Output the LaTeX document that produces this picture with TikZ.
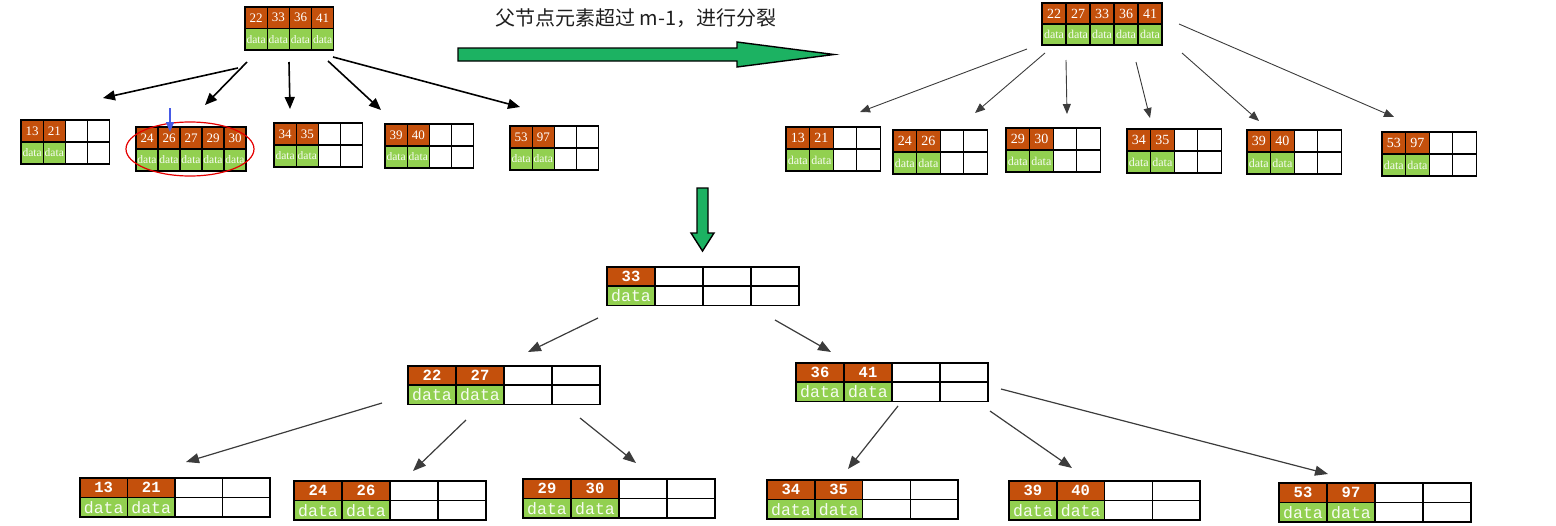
\documentclass[tikz,border=0pt]{standalone}
\usepackage{fontspec}
\setmainfont{Liberation Serif}
\newfontfamily\cjk{Noto Sans CJK SC}
\newfontfamily\monof{Liberation Mono}
\usetikzlibrary{arrows.meta}
\definecolor{keyor}{RGB}{196,80,12}
\definecolor{datagr}{RGB}{146,208,80}
\definecolor{bigarr}{RGB}{28,178,98}
\definecolor{thinarr}{RGB}{60,60,60}
\newcommand\fkeyA{\fontsize{13}{13}\selectfont}
\newcommand\fdataA{\fontsize{11.5}{11.5}\selectfont}
\newcommand\fkeyB{\fontsize{14}{14}\selectfont}
\newcommand\fdataB{\fontsize{12}{12}\selectfont}
\newcommand\fkeyC{\monof\bfseries\fontsize{15.5}{15.5}\selectfont}
\newcommand\fdataC{\monof\fontsize{16.5}{16.5}\selectfont}
% #1 name, #2 x, #3 y(top), #4 cell width, #5 row height, #6 cells, #7 keys, #8 key font, #9 data font
\newcommand\bnode[9]{%
  \foreach \j in {1,...,#6}{%
    \draw[cellb, fill=white] ({#2+(\j-1)*#4},#3) rectangle ++(#4,#5);
    \draw[cellb, fill=white] ({#2+(\j-1)*#4},{#3+#5}) rectangle ++(#4,#5);
  }
  \foreach \k [count=\i] in {#7}{%
    \draw[cellb, fill=keyor] ({#2+(\i-1)*#4},#3) rectangle node[text=white, inner sep=0pt, font={#8}]{\k} ++(#4,#5);
    \draw[cellb, fill=datagr] ({#2+(\i-1)*#4},{#3+#5}) rectangle node[text=white!92!datagr, inner sep=0pt, font={#9}]{data} ++(#4,#5);
  }
  \node[inner sep=0pt, minimum width={#6*#4}, minimum height={2*#5}, anchor=north west] (#1) at (#2,#3) {};
}
\begin{document}
\begin{tikzpicture}[x=1pt,y=-1pt,
  arrA/.style={draw=black, line width=1.6pt, -{Triangle[length=12pt,width=10pt]}},
  arrB/.style={draw=thinarr, line width=0.9pt, -{Triangle[length=10pt,width=8pt]}},
  arrC/.style={draw=thinarr, line width=1.2pt, -{Triangle[length=13pt,width=10pt]}},
  blockarr/.style={draw=black, line width=1.4pt, fill=bigarr, line join=miter}]
\useasboundingbox (0,0) rectangle (1556,525);

% ---------- top-left tree ----------
\begin{scope}[cellb/.style={draw=black, line width=1.1pt}]
\bnode{tlroot}{245}{7}{22.2}{21.5}{4}{22,33,36,41}{\fkeyA}{\fdataA}
\bnode{tl1}{21}{120}{22.2}{22}{4}{13,21}{\fkeyA}{\fdataA}
\bnode{tl2}{136}{127}{22}{22}{5}{24,26,27,29,30}{\fkeyA}{\fdataA}
\bnode{tl3}{274}{123}{22.2}{22}{4}{34,35}{\fkeyA}{\fdataA}
\bnode{tl4}{385}{124}{22.2}{22}{4}{39,40}{\fkeyA}{\fdataA}
\bnode{tl5}{510}{126}{22.2}{22}{4}{53,97}{\fkeyA}{\fdataA}
\end{scope}
\draw[red!90!black, line width=1.2pt] (190,149) ellipse [x radius=64, y radius=27];
\coordinate (bluea) at (170,108);
\coordinate (blueb) at (170,132);
\draw[draw={rgb,255:red,70;green,90;blue,230}, line width=1.4pt, -{Triangle[length=10pt,width=8pt]}] (bluea) -- (blueb);

\coordinate (ta1) at (238,68);  \coordinate (tb1) at (103,98);
\coordinate (ta2) at (247,62);  \coordinate (tb2) at (205,105);
\coordinate (ta3) at (289,62);  \coordinate (tb3) at (290,109);
\coordinate (ta4) at (328,61);  \coordinate (tb4) at (381,110);
\coordinate (ta5) at (333,57);  \coordinate (tb5) at (520,107);
\foreach \n in {1,...,5} \draw[arrA] (ta\n) -- (tb\n);

% ---------- title and horizontal block arrow ----------
\node[font={\cjk\fontsize{20}{20}\selectfont}, text={rgb,255:red,30;green,30;blue,30}, inner sep=0pt] (title) at (636,18) {父节点元素超过 m-1，进行分裂};
\draw[blockarr] (458,48) -- (737,48) -- (737,42) -- (834,54.5) -- (737,67) -- (737,61) -- (458,61) -- cycle;

% ---------- top-right tree ----------
\begin{scope}[cellb/.style={draw=black, line width=1.1pt}]
\bnode{trroot}{1042}{3}{24}{21}{5}{22,27,33,36,41}{\fkeyB}{\fdataB}
\bnode{tr1}{786}{127}{23.6}{22}{4}{13,21}{\fkeyB}{\fdataB}
\bnode{tr2}{893}{130}{23.6}{22}{4}{24,26}{\fkeyB}{\fdataB}
\bnode{tr3}{1006}{128}{23.6}{22}{4}{29,30}{\fkeyB}{\fdataB}
\bnode{tr4}{1127}{129}{23.6}{22}{4}{34,35}{\fkeyB}{\fdataB}
\bnode{tr5}{1247}{130}{23.6}{22}{4}{39,40}{\fkeyB}{\fdataB}
\bnode{tr6}{1382}{132}{23.6}{22}{4}{53,97}{\fkeyB}{\fdataB}
\end{scope}
\coordinate (ra1) at (1027,49);  \coordinate (rb1) at (860,112);
\coordinate (ra2) at (1045,53);  \coordinate (rb2) at (975,113);
\coordinate (ra3) at (1066,60);  \coordinate (rb3) at (1067,114);
\coordinate (ra4) at (1136,62);  \coordinate (rb4) at (1150,118);
\coordinate (ra5) at (1182,53);  \coordinate (rb5) at (1259,121);
\coordinate (ra6) at (1179,24);  \coordinate (rb6) at (1394,117);
\foreach \n in {1,...,6} \draw[arrB] (ra\n) -- (rb\n);

% ---------- vertical block arrow ----------
\draw[blockarr] (697,188) -- (708,188) -- (708,233) -- (714,233) -- (702.5,251) -- (691,233) -- (697,233) -- cycle;

% ---------- bottom tree ----------
\begin{scope}[cellb/.style={draw=black, line width=1.6pt}]
\bnode{broot}{607}{267}{48}{19.2}{4}{33}{\fkeyC}{\fdataC}
\bnode{bl}{408}{366}{48}{19.2}{4}{22,27}{\fkeyC}{\fdataC}
\bnode{br}{796}{363}{48}{19.2}{4}{36,41}{\fkeyC}{\fdataC}
\bnode{b1}{80}{478}{47.5}{19.5}{4}{13,21}{\fkeyC}{\fdataC}
\bnode{b2}{294}{481}{48}{19.5}{4}{24,26}{\fkeyC}{\fdataC}
\bnode{b3}{523}{479}{48}{19.5}{4}{29,30}{\fkeyC}{\fdataC}
\bnode{b4}{767}{480}{47.8}{19.5}{4}{34,35}{\fkeyC}{\fdataC}
\bnode{b5}{1009}{481}{47.8}{19.5}{4}{39,40}{\fkeyC}{\fdataC}
\bnode{b6}{1279}{483}{48}{19.5}{4}{53,97}{\fkeyC}{\fdataC}
\end{scope}
\coordinate (ba1) at (598,318);  \coordinate (bb1) at (528,352);
\coordinate (ba2) at (775,320);  \coordinate (bb2) at (831,352);
\coordinate (ba3) at (382,403);  \coordinate (bb3) at (186,462);
\coordinate (ba4) at (466,420);  \coordinate (bb4) at (413,471);
\coordinate (ba5) at (580,418);  \coordinate (bb5) at (636,463);
\coordinate (ba6) at (898,406);  \coordinate (bb6) at (848,469);
\coordinate (ba7) at (990,411);  \coordinate (bb7) at (1072,468);
\coordinate (ba8) at (1001,389); \coordinate (bb8) at (1328,474);
\foreach \n in {1,...,8} \draw[arrC] (ba\n) -- (bb\n);
\end{tikzpicture}
\end{document}
